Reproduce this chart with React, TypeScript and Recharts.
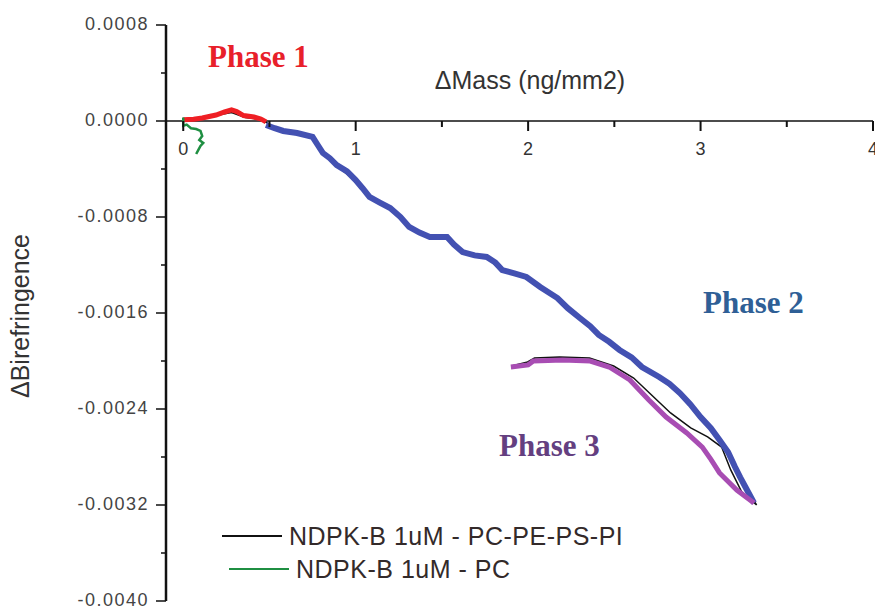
import { LineChart, Line, XAxis, YAxis, ReferenceLine, Legend } from 'recharts'

// ── Layout ───────────────────────────────────────────────────────────────────
const W = 875
const H = 608
const X_AXIS_H = 1
const MARGIN = { top: 24, right: 2, bottom: 7, left: 100 }
const Y_AXIS_W = 66
const PLOT_LEFT = MARGIN.left + Y_AXIS_W
const X_DOMAIN: [number, number] = [-0.1, 4]
const Y_DOMAIN: [number, number] = [-0.004, 0.0008]
const PLOT_TOP = MARGIN.top + X_AXIS_H
const PLOT_H = H - PLOT_TOP - MARGIN.bottom
// the x axis sits on y = 0, inside the plot
const AXIS_Y = PLOT_TOP + (PLOT_H * Y_DOMAIN[1]) / (Y_DOMAIN[1] - Y_DOMAIN[0])

const X_TICKS = [0, 0.5, 1, 1.5, 2, 2.5, 3, 3.5, 4]
const Y_TICKS = [
  0.0008, 0.0004, 0, -0.0004, -0.0008, -0.0012, -0.0016,
  -0.002, -0.0024, -0.0028, -0.0032, -0.0036, -0.004,
]

const SANS = '"Liberation Sans", Arial, sans-serif'
const SERIF = '"Liberation Serif", "Times New Roman", serif'

// ── Data: [ΔMass, ΔBirefringence] ────────────────────────────────────────────
const phase1 = [
  [0.0, 0.00001], [0.06, 0.000015], [0.11, 0.000025], [0.19, 0.00005],
  [0.24, 0.000075], [0.28, 0.000092], [0.31, 0.000078], [0.35, 0.000045],
  [0.41, 0.000033], [0.45, 0.000017], [0.48, -0.000008],
]

const phase2 = [
  [0.48, -0.000033], [0.53, -0.00006], [0.58, -0.000083], [0.66, -0.0001],
  [0.75, -0.000133], [0.78, -0.0002], [0.81, -0.000267], [0.85, -0.00031],
  [0.89, -0.000367], [0.95, -0.00042], [1.0, -0.000492], [1.04, -0.00056],
  [1.08, -0.000633], [1.14, -0.00068], [1.2, -0.000725], [1.26, -0.0008],
  [1.31, -0.000883], [1.37, -0.00093], [1.43, -0.000967], [1.53, -0.000967],
  [1.57, -0.00103], [1.62, -0.001092], [1.69, -0.00112], [1.76, -0.001133],
  [1.81, -0.00118], [1.85, -0.001242], [1.92, -0.00127], [1.99, -0.0013],
  [2.07, -0.001383], [2.17, -0.001475], [2.23, -0.00156], [2.3, -0.001642],
  [2.36, -0.00171], [2.41, -0.001783], [2.47, -0.00184], [2.53, -0.001908],
  [2.6, -0.00197], [2.66, -0.00205], [2.76, -0.002133], [2.82, -0.00219],
  [2.88, -0.002267], [2.94, -0.00236], [3.0, -0.002467], [3.06, -0.00256],
  [3.11, -0.002658], [3.16, -0.00276], [3.2, -0.002883], [3.23, -0.00297],
  [3.26, -0.00305], [3.31, -0.003183],
]

const phase3 = [
  [3.31, -0.003183], [3.21, -0.003075], [3.11, -0.002933], [3.06, -0.00282],
  [3.01, -0.002717], [2.92, -0.0026], [2.8, -0.002467], [2.7, -0.002325],
  [2.59, -0.002158], [2.47, -0.00205], [2.36, -0.002], [2.2, -0.001992],
  [2.03, -0.002], [2.0, -0.002033], [1.9, -0.00205],
]

// PC-PE-PS-PI raw trace (drawn thin, under the phase colours)
const mixedLipids = [
  [0.0, 0.0], [0.11, 0.00002], [0.19, 0.000045], [0.24, 0.00006], [0.28, 0.00007],
  [0.32, 0.00005], [0.36, 0.00003], [0.41, 0.00002], [0.45, 0.00001], [0.48, -0.00001],
  [0.53, -0.00006], [0.66, -0.000105], [0.75, -0.00014], [0.81, -0.000275],
  [0.89, -0.000375], [1.0, -0.0005], [1.08, -0.00064], [1.2, -0.00073],
  [1.31, -0.00089], [1.43, -0.000975], [1.53, -0.000975], [1.62, -0.0011],
  [1.76, -0.00114], [1.85, -0.00125], [1.99, -0.00131], [2.07, -0.00139],
  [2.17, -0.00148], [2.3, -0.00165], [2.41, -0.00179], [2.53, -0.00191],
  [2.66, -0.002055], [2.76, -0.00214], [2.88, -0.002275], [3.0, -0.002475],
  [3.11, -0.002665], [3.2, -0.00289], [3.26, -0.003055], [3.325, -0.0032],
  [3.239, -0.003092], [3.175, -0.002908], [3.122, -0.002717], [3.041, -0.002633],
  [2.943, -0.002558], [2.826, -0.002433], [2.728, -0.0023], [2.612, -0.002142],
  [2.496, -0.002042], [2.356, -0.001975], [2.182, -0.001967], [2.037, -0.001975],
  [1.997, -0.002008], [1.904, -0.002042],
]

const pcOnly = [
  [0.0, 0.00003], [0.0, -0.00004], [0.02, -0.00003], [0.045, -0.00006],
  [0.075, -0.000067], [0.1, -0.000083], [0.11, -0.000125], [0.093, -0.000158],
  [0.116, -0.000183], [0.1, -0.000208], [0.087, -0.000242], [0.075, -0.000275],
]

const toRows = (pts: number[][]) => pts.map(([x, y]) => ({ x, y }))

// ── Ticks ────────────────────────────────────────────────────────────────────
function XTick({ x, payload }: any) {
  const major = Number.isInteger(payload.value)
  return (
    <g>
      <rect x={x - 1} y={AXIS_Y} width={2} height={major ? 10 : 6} fill="#111" />
      {major && (
        <text x={x} y={AXIS_Y + 34} textAnchor="middle" fontSize={18} fontFamily={SANS} fill="#333">
          {payload.value}
        </text>
      )}
    </g>
  )
}

function YTick({ y, payload }: any) {
  const v = payload.value as number
  const major = Math.round(v * 1e4) % 8 === 0
  return (
    <g>
      <rect x={PLOT_LEFT - (major ? 10 : 5)} y={y - 0.75} width={major ? 10 : 5} height={1.5} fill="#111" />
      {major && (
        <text
          x={PLOT_LEFT - 17}
          y={y + 5}
          textAnchor="end"
          fontSize={18}
          letterSpacing={1.5}
          fontFamily={SANS}
          fill="#444"
        >
          {v === 0 ? '0.0000' : v.toFixed(4)}
        </text>
      )}
    </g>
  )
}

// ── Legend ───────────────────────────────────────────────────────────────────
function LegendBox({ payload }: any) {
  const items = (payload || []).filter((p: any) => p.type !== 'none')
  return (
    <svg width={440} height={64}>
      {items.map((p: any, i: number) => {
        const dx = i * 7
        const ly = 18 + i * 33
        return (
          <g key={i}>
            <line x1={dx} x2={dx + 60} y1={ly} y2={ly} stroke={p.color} strokeWidth={2} />
            <text x={dx + 67} y={ly + 9} fontSize={25} letterSpacing={0.5} fontFamily={SANS} fill="#332a2a">
              {p.value}
            </text>
          </g>
        )
      })}
    </svg>
  )
}

export default function App() {
  return (
    <div style={{ position: 'absolute', left: 0, top: 0, width: W, height: H, background: '#fff' }}>
      <LineChart width={W} height={H} margin={MARGIN}>
        <XAxis
          type="number"
          dataKey="x"
          orientation="top"
          height={X_AXIS_H}
          domain={X_DOMAIN}
          allowDataOverflow
          ticks={X_TICKS}
          interval={0}
          axisLine={false}
          tickLine={false}
          tick={<XTick />}
        />
        <YAxis
          type="number"
          dataKey="y"
          width={Y_AXIS_W}
          domain={Y_DOMAIN}
          allowDataOverflow
          ticks={Y_TICKS}
          interval={0}
          axisLine={{ stroke: '#111', strokeWidth: 2 }}
          tickLine={false}
          tick={<YTick />}
        />
        <ReferenceLine y={0} stroke="#111" strokeWidth={1.5} ifOverflow="visible" />
        <Line
          data={toRows(mixedLipids)}
          dataKey="y"
          name="NDPK-B 1uM - PC-PE-PS-PI"
          stroke="#111"
          strokeWidth={1.5}
          dot={false}
          isAnimationActive={false}
        />
        <Line data={toRows(phase1)} dataKey="y" stroke="#ef1f24" strokeWidth={5} dot={false} legendType="none" isAnimationActive={false} />
        <Line data={toRows(phase2)} dataKey="y" stroke="#4351b2" strokeWidth={6} dot={false} legendType="none" isAnimationActive={false} />
        <Line data={toRows(phase3)} dataKey="y" stroke="#a84db3" strokeWidth={5} dot={false} legendType="none" isAnimationActive={false} />
        <Line
          data={toRows(pcOnly)}
          dataKey="y"
          name="NDPK-B 1uM - PC"
          stroke="#1f8f42"
          strokeWidth={2.5}
          dot={false}
          isAnimationActive={false}
        />
        <Legend
          layout="vertical"
          align="center"
          verticalAlign="middle"
          itemSorter="dataKey"
          content={<LegendBox />}
          wrapperStyle={{ left: 222, top: 518, width: 440 }}
        />
      </LineChart>

      {/* axis spine and annotations */}
      <svg width={W} height={H} style={{ position: 'absolute', left: 0, top: 0, pointerEvents: 'none' }}>
        <rect x={PLOT_LEFT - 1.25} y={PLOT_TOP} width={2.5} height={PLOT_H} fill="#111" />
        <text x={530} y={89} textAnchor="middle" fontSize={25} fontFamily={SANS} fill="#333">
          ΔMass (ng/mm2)
        </text>
        <text
          x={29}
          y={316}
          textAnchor="middle"
          fontSize={25}
          fontFamily={SANS}
          fill="#333"
          transform="rotate(-90, 29, 316)"
        >
          ΔBirefringence
        </text>
        <text x={208} y={67} fontSize={31} fontWeight="bold" fontFamily={SERIF} fill="#e8202a">Phase 1</text>
        <text x={703} y={313} fontSize={31} fontWeight="bold" fontFamily={SERIF} fill="#2f5f96">Phase 2</text>
        <text x={499} y={456} fontSize={31} fontWeight="bold" fontFamily={SERIF} fill="#643f80">Phase 3</text>
      </svg>
    </div>
  )
}
